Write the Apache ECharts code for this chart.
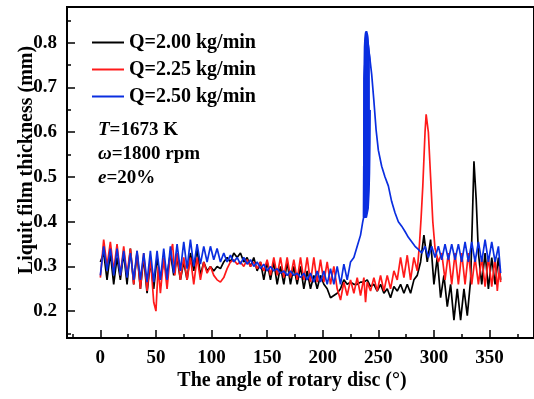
<!DOCTYPE html>
<html><head><meta charset="utf-8">
<script src="https://cdn.jsdelivr.net/npm/echarts@6/dist/echarts.min.js"></script>
<style>html,body{margin:0;padding:0;background:#fff}#c{width:534px;height:399px}</style>
</head><body><div id="c"></div>
<script>
// ---- tick values ----
const xMajorTicks = [0, 50, 100, 150, 200, 250, 300, 350];
const xMinorTicks = [-25, 25, 75, 125, 175, 225, 275, 325, 375];
const yMajorTicks = [0.2, 0.3, 0.4, 0.5, 0.6, 0.7, 0.8];
const yMinorTicks = [0.15, 0.25, 0.35, 0.45, 0.55, 0.65, 0.75, 0.85];

// ---- series names ----
const seriesNames = ['Q=2.00 kg/min', 'Q=2.25 kg/min', 'Q=2.50 kg/min'];

// ---- Q = 2.00 kg/min (black) ----
const angle200 = [0,3,6,9,12,15,18,21,24,27,30,33,36,39,42,45,48,51,54,57,60,63,66,69,72,75,78,81,84,87,90,93,96,99,102,105,108,111,114,117,120,123,126,129,132,135,138,141,144,147,150,153,156,159,162,165,168,171,174,177,180,183,186,189,192,195,198,201,204,207,210,213,216,219,222,225,228,231,234,237,240,243,246,249,252,255,258,261,264,267,270,273,276,279,282,285,288,291,294,297,300,303,306,309,312,315,318,321,324,327,330,333,334.5,336,338,340,343,346,349,352,355,358,360];
const thick200 = [0.31,0.33,0.27,0.33,0.26,0.32,0.27,0.33,0.26,0.34,
  0.26,0.33,0.25,0.32,0.24,0.31,0.25,0.32,0.27,0.31,
  0.28,0.33,0.28,0.32,0.27,0.31,0.27,0.33,0.29,0.34,
  0.28,0.31,0.29,0.30,0.29,0.30,0.295,0.31,0.32,0.31,
  0.33,0.32,0.33,0.31,0.32,0.30,0.32,0.29,0.31,0.27,
  0.31,0.27,0.31,0.26,0.30,0.26,0.31,0.26,0.30,0.26,
  0.30,0.25,0.29,0.25,0.28,0.25,0.28,0.26,0.25,0.23,
  0.235,0.24,0.25,0.27,0.26,0.265,0.26,0.26,0.265,0.265,
  0.27,0.255,0.26,0.245,0.26,0.24,0.25,0.23,0.255,0.245,
  0.26,0.24,0.26,0.24,0.27,0.28,0.31,0.37,0.31,0.36,
  0.26,0.32,0.23,0.28,0.21,0.26,0.18,0.25,0.18,0.25,
  0.19,0.27,0.40,0.535,0.45,0.33,0.26,0.33,0.25,0.32,
  0.26,0.32,0.27];

// ---- Q = 2.25 kg/min (red) ----
const angle225 = [0,3,6,9,12,15,18,21,24,27,30,33,36,39,42,45,48,50,52,54,57,60,63,65,67,69,72,75,78,81,84,87,90,93,96,99,102,105,108,111,114,117,120,123,126,129,132,135,138,141,144,147,150,153,156,159,162,165,168,171,174,177,180,183,186,189,192,195,198,201,204,207,210,213,216,219,222,225,228,231,234,237,238.5,240,243,246,249,252,255,258,261,264,267,270,273,276,279,282,285,287,288.5,290,292,293,295,297,299,301,304,307,310,313,316,319,322,325,328,331,334,337,340,343,346,349,352,355,357,359,360];
const thick225 = [0.275,0.36,0.30,0.355,0.29,0.35,0.28,0.345,0.28,0.34,0.26,0.335,0.25,0.33,0.245,0.32,0.22,0.20,0.30,0.24,0.32,0.25,0.33,0.35,0.28,0.33,0.27,0.32,0.27,0.32,0.26,0.32,0.27,0.31,0.285,0.30,0.28,0.27,0.265,0.275,0.295,0.31,0.315,0.305,0.31,0.30,0.315,0.30,0.31,0.295,0.31,0.29,0.315,0.28,0.32,0.28,0.32,0.275,0.32,0.275,0.315,0.27,0.32,0.27,0.32,0.265,0.32,0.265,0.315,0.265,0.31,0.26,0.30,0.25,0.225,0.265,0.235,0.27,0.24,0.275,0.235,0.275,0.22,0.265,0.245,0.275,0.245,0.28,0.245,0.28,0.25,0.29,0.27,0.32,0.275,0.325,0.27,0.32,0.29,0.35,0.41,0.48,0.60,0.64,0.60,0.50,0.40,0.34,0.31,0.33,0.27,0.33,0.26,0.33,0.26,0.33,0.26,0.33,0.26,0.32,0.26,0.32,0.255,0.32,0.255,0.32,0.245,0.30,0.265];

// ---- Q = 2.50 kg/min (blue) ----
const angle250 = [0,3,6,9,12,15,18,21,24,27,30,33,36,39,42,45,48,51,54,57,60,63,66,69,72,75,78,81,84,87,90,93,96,99,102,105,108,111,114,117,120,123,126,129,132,135,138,141,144,147,150,153,156,159,162,165,168,171,174,177,180,183,186,189,192,195,198,201,204,207,210,213,216,219,222,225,228,231,234,236,
  236.8,237.2,239.4,242.6,
  244,246,248,250,253,256,259,262,265,268,271,274,277,280,283,286,289,292,295,298,301,304,307,310,313,316,319,322,325,328,331,334,337,340,343,346,349,352,355,358,360];
const thick250 = [0.28,0.345,0.29,0.34,0.28,0.34,0.28,0.335,0.275,0.33,0.27,0.335,0.27,0.33,0.265,0.335,0.265,0.335,0.27,0.34,0.27,0.345,0.285,0.35,0.29,0.355,0.295,0.36,0.30,0.35,0.305,0.345,0.31,0.345,0.315,0.34,0.31,0.33,0.31,0.325,0.31,0.32,0.305,0.32,0.305,0.315,0.30,0.31,0.295,0.305,0.29,0.30,0.29,0.295,0.285,0.29,0.28,0.29,0.28,0.285,0.275,0.285,0.27,0.285,0.265,0.29,0.265,0.29,0.26,0.295,0.26,0.30,0.26,0.305,0.27,0.31,0.32,0.345,0.37,0.40,
  0.41,0.72,0.826,0.76,
  0.73,0.67,0.605,0.56,0.524,0.50,0.48,0.445,0.42,0.40,0.39,0.378,0.365,0.355,0.345,0.338,0.33,0.345,0.32,0.345,0.32,0.345,0.315,0.35,0.315,0.35,0.315,0.35,0.31,0.355,0.31,0.355,0.31,0.355,0.31,0.36,0.31,0.355,0.31,0.345,0.285];

// rapid-oscillation band of the Q=2.50 spike (lower and upper envelope)
const bandAngle = [236.8,237.2,237.6,238.0,238.4,238.8,239.2,239.6,240.0,240.4,240.8,241.2,241.6,242.0,242.4,242.6];
const bandLow   = [0.41,0.41,0.41,0.41,0.41,0.41,0.41,0.41,0.42,0.42,0.43,0.45,0.47,0.51,0.58,0.65];
const bandHigh  = [0.41,0.72,0.79,0.81,0.82,0.825,0.826,0.826,0.82,0.815,0.80,0.79,0.78,0.77,0.76,0.76];
// lower envelope extended slightly past the band so it masks the fill beneath it cleanly
const maskAngle = [235.8,236.8,237.2,237.6,238.0,238.4,238.8,239.2,239.6,240.0,240.4,240.8,241.2,241.6,242.0,242.4,242.6,243.6];
const maskLow   = [0.39,0.41,0.41,0.41,0.41,0.41,0.41,0.41,0.41,0.42,0.42,0.43,0.45,0.47,0.51,0.58,0.65,0.65];

const FONT = '"Liberation Serif","Times New Roman",serif';
const BLUE = '#0a2ee0';
function pairs(a, v) { return a.map((x, i) => [x, v[i]]); }

const chart = echarts.init(document.getElementById('c'), null, {renderer: 'canvas'});
const lineCommon = {type: 'line', showSymbol: false, symbol: 'none', animation: false, sampling: null, xAxisIndex: 0, yAxisIndex: 0};
const tickStyle = {color: '#000', width: 1.5};
chart.setOption({
  animation: false,
  backgroundColor: '#fff',
  grid: {left: 67, right: -5, top: 7, bottom: 61, show: true, borderColor: '#000', borderWidth: 2, backgroundColor: 'transparent'},
  legend: {
    orient: 'vertical', left: 92, top: 32, padding: 0, itemGap: 6,
    itemWidth: 32, itemHeight: 2, icon: 'rect',
    textStyle: {fontFamily: FONT, fontWeight: 'bold', fontSize: 20, color: '#000', lineHeight: 21},
    data: seriesNames
  },
  xAxis: [{
    type: 'value', min: -30, max: 390, position: 'bottom', z: 5,
    axisLine: {show: true, onZero: false, lineStyle: {color: '#000', width: 2}},
    splitLine: {show: false},
    axisTick: {show: true, inside: true, length: 8, lineStyle: tickStyle, customValues: xMajorTicks},
    axisLabel: {customValues: xMajorTicks, margin: 11, fontFamily: FONT, fontWeight: 'bold', fontSize: 19, color: '#000'}
  }, {
    type: 'value', min: -30, max: 390, position: 'bottom', z: 5,
    axisLine: {show: false, onZero: false}, splitLine: {show: false}, axisLabel: {show: false},
    axisTick: {show: true, inside: true, length: 4, lineStyle: tickStyle, customValues: xMinorTicks}
  }],
  yAxis: [{
    type: 'value', min: 0.14, max: 0.88, position: 'left',
    axisLine: {show: true, onZero: false, lineStyle: {color: '#000', width: 2}},
    splitLine: {show: false},
    axisTick: {show: true, inside: true, length: 8, lineStyle: tickStyle, customValues: yMajorTicks},
    axisLabel: {customValues: yMajorTicks, margin: 10, fontFamily: FONT, fontWeight: 'bold', fontSize: 19, color: '#000',
      formatter: v => v.toFixed(1)}
  }, {
    type: 'value', min: 0.14, max: 0.88, position: 'left',
    axisLine: {show: false, onZero: false}, splitLine: {show: false}, axisLabel: {show: false},
    axisTick: {show: true, inside: true, length: 4, lineStyle: tickStyle, customValues: yMinorTicks}
  }],
  series: [
    // spike band: blue fill under the upper envelope, then white fill under the lower envelope (drawn beneath the curves)
    Object.assign({}, lineCommon, {name: 'band-high', data: pairs(bandAngle, bandHigh), z: 1, color: BLUE,
      lineStyle: {width: 1.7, color: BLUE}, areaStyle: {color: BLUE, opacity: 1}}),
    Object.assign({}, lineCommon, {name: 'band-mask', data: pairs(maskAngle, maskLow), z: 1, color: '#fff',
      lineStyle: {width: 0, color: '#fff', opacity: 0}, areaStyle: {color: '#ffffff', opacity: 1}}),
    Object.assign({}, lineCommon, {name: seriesNames[0], data: pairs(angle200, thick200), color: '#000000', lineStyle: {width: 1.7, color: '#000000'}}),
    Object.assign({}, lineCommon, {name: seriesNames[1], data: pairs(angle225, thick225), color: '#ff1a1a', lineStyle: {width: 1.7, color: '#ff1a1a'}}),
    Object.assign({}, lineCommon, {name: seriesNames[2], data: pairs(angle250, thick250), color: BLUE, lineStyle: {width: 1.7, color: BLUE}}),
    Object.assign({}, lineCommon, {name: 'band-edge', data: pairs(bandAngle, bandLow), color: BLUE, lineStyle: {width: 1.7, color: BLUE}})
  ],
  graphic: [
    {type: 'text', x: 292, y: 381, style: {text: 'The angle of rotary disc (°)', font: 'bold 20px ' + FONT, fill: '#000', align: 'center', verticalAlign: 'middle'}},
    {type: 'text', x: 27, y: 160, rotation: Math.PI / 2, style: {text: 'Liquit film thickness (mm)', font: 'bold 20px ' + FONT, fill: '#000', align: 'center', verticalAlign: 'middle'}},
    {type: 'text', x: 98, y: 130, style: {text: '{i|T}=1673 K', font: 'bold 19px ' + FONT, fill: '#000', verticalAlign: 'middle',
      rich: {i: {fontStyle: 'italic', fontWeight: 'bold', fontSize: 19, fontFamily: FONT}}}},
    {type: 'text', x: 98, y: 154, style: {text: '{i|ω}=1800 rpm', font: 'bold 19px ' + FONT, fill: '#000', verticalAlign: 'middle',
      rich: {i: {fontStyle: 'italic', fontWeight: 'bold', fontSize: 19, fontFamily: FONT}}}},
    {type: 'text', x: 98, y: 178, style: {text: '{i|e}=20%', font: 'bold 19px ' + FONT, fill: '#000', verticalAlign: 'middle',
      rich: {i: {fontStyle: 'italic', fontWeight: 'bold', fontSize: 19, fontFamily: FONT}}}}
  ]
});
</script></body></html>
